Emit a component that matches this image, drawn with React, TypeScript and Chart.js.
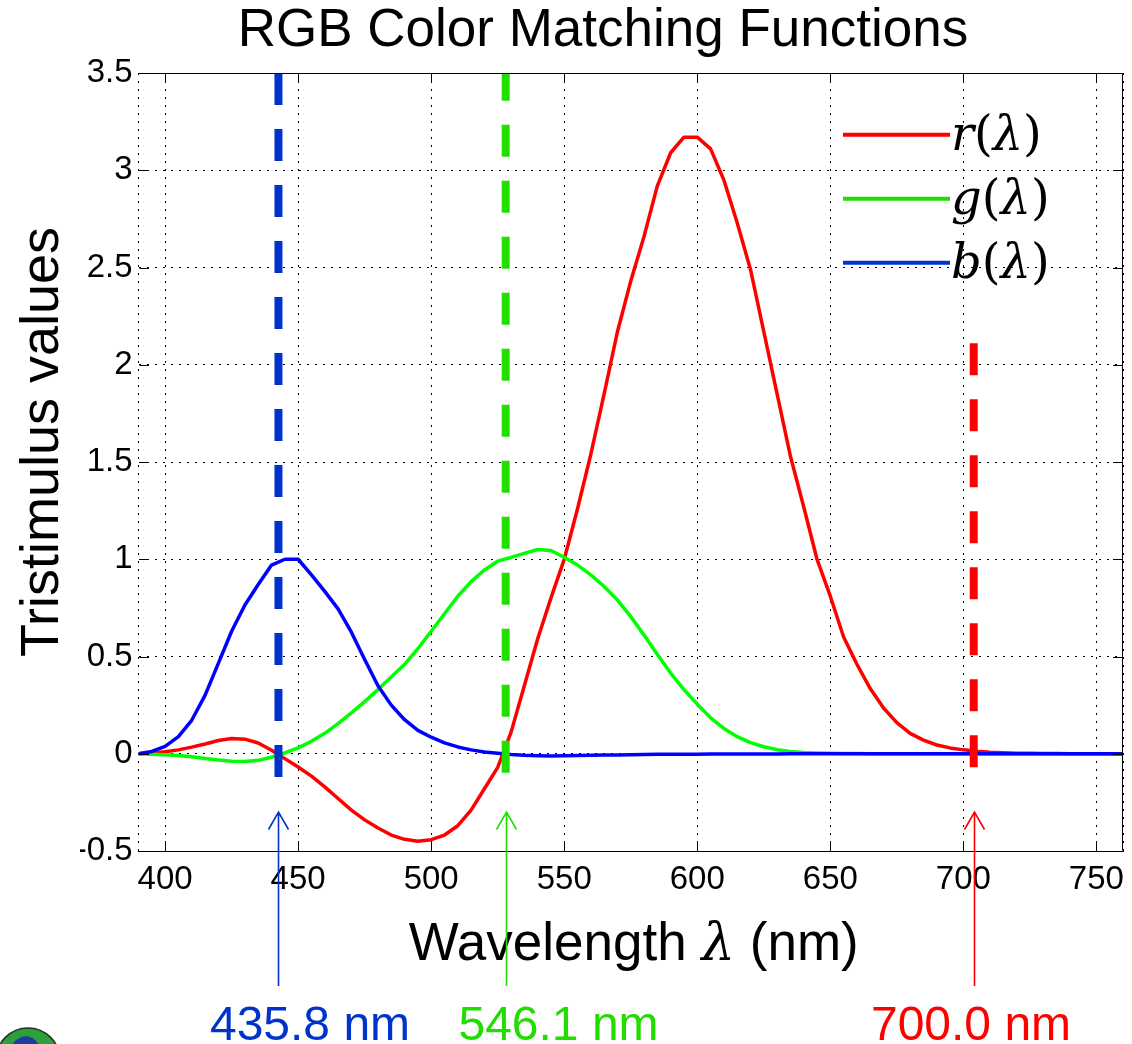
import { useEffect, useRef } from "react";
import { Chart, registerables } from "chart.js";

Chart.register(...registerables);

// ---- data ----
const WAVELENGTHS = [
  390, 395, 400, 405, 410, 415, 420, 425, 430, 435,
  440, 445, 450, 455, 460, 465, 470, 475, 480, 485,
  490, 495, 500, 505, 510, 515, 520, 525, 530, 535,
  540, 545, 550, 555, 560, 565, 570, 575, 580, 585,
  590, 595, 600, 605, 610, 615, 620, 625, 630, 635,
  640, 645, 650, 655, 660, 665, 670, 675, 680, 685,
  690, 695, 700, 705, 710, 715, 720, 725, 730, 735,
  740, 745, 750, 755, 760,
];

const R_BAR = [
  0.0, 0.004, 0.01, 0.02, 0.034, 0.05, 0.068, 0.078, 0.075, 0.055,
  0.018, -0.025, -0.068, -0.115, -0.17, -0.23, -0.29, -0.34, -0.382, -0.418,
  -0.44, -0.45, -0.442, -0.418, -0.37, -0.29, -0.18, -0.07, 0.11, 0.35,
  0.59, 0.8, 1.0, 1.26, 1.54, 1.85, 2.17, 2.43, 2.66, 2.92,
  3.09, 3.17, 3.17, 3.11, 2.95, 2.73, 2.49, 2.17, 1.85, 1.53,
  1.27, 1.0, 0.81, 0.6, 0.46, 0.335, 0.235, 0.16, 0.105, 0.07,
  0.045, 0.03, 0.02, 0.013, 0.008, 0.005, 0.003, 0.002, 0.001, 0.001,
  0.0, 0.0, 0.0, 0.0, 0.0,
];

const G_BAR = [
  0.0, -0.002, -0.005, -0.009, -0.016, -0.024, -0.032, -0.038, -0.04, -0.034,
  -0.018, 0.004, 0.03, 0.064, 0.105, 0.155, 0.21, 0.268, 0.33, 0.395,
  0.46, 0.54, 0.63, 0.72, 0.81, 0.885, 0.945, 0.99, 1.01, 1.03,
  1.05, 1.045, 1.01, 0.97, 0.92, 0.86, 0.79, 0.705, 0.61, 0.51,
  0.415, 0.33, 0.255, 0.185, 0.13, 0.088, 0.057, 0.036, 0.021, 0.012,
  0.007, 0.004, 0.002, 0.001, 0.001, 0.0, 0.0, 0.0, 0.0, 0.0,
  0.0, 0.0, 0.0, 0.0, 0.0, 0.0, 0.0, 0.0, 0.0, 0.0,
  0.0, 0.0, 0.0, 0.0, 0.0,
];

const B_BAR = [
  0.0, 0.012, 0.038, 0.088, 0.172, 0.3, 0.465, 0.63, 0.765, 0.87,
  0.97, 1.0, 1.0, 0.92, 0.835, 0.745, 0.625, 0.485, 0.35, 0.25,
  0.175, 0.12, 0.085, 0.056, 0.035, 0.02, 0.009, 0.002, -0.004, -0.008,
  -0.01, -0.011, -0.01, -0.009, -0.008, -0.007, -0.006, -0.005, -0.004, -0.003,
  -0.003, -0.002, -0.002, -0.001, -0.001, -0.001, -0.001, -0.001, -0.001, 0.0,
  0.0, 0.0, 0.0, 0.0, 0.0, 0.0, 0.0, 0.0, 0.0, 0.0,
  0.0, 0.0, 0.0, 0.0, 0.0, 0.0, 0.0, 0.0, 0.0, 0.0,
  0.0, 0.0, 0.0, 0.0, 0.0,
];

const SERIES_NAMES = ["r", "g", "b"];
const X_MIN = 390;
const X_MAX = 760;
const X_TICKS = [400, 450, 500, 550, 600, 650, 700, 750];
const Y_TICKS = [-0.5, 0, 0.5, 1, 1.5, 2, 2.5, 3, 3.5];

// primary markers: where the dashed markers sit on the wavelength axis, and their labels
const MARKER_LABELS = ["435.8 nm", "546.1 nm", "700.0 nm"];
const MARKER_WAVELENGTHS = [442.6, 528.0, 703.9];
const MARKER_TOP = [3.5, 3.5, 2.11];
const MARKER_BOTTOM = [-0.121, -0.099, -0.071];

// ---- styles / layout ----
const SANS = "'Liberation Sans', Arial, Helvetica, sans-serif";
const SERIF = "'DejaVu Serif', 'Liberation Serif', serif";
const CURVE_COLORS = ["#ff0000", "#00ff00", "#0000ff"];
const ACCENT_COLORS = ["#ff0000", "#22dd00", "#0033cc"];
const MARKER_COLORS = ["#0033cc", "#22dd00", "#ff0000"];
const MARKER_DASH_OFFSET = [0, 4.3, 0];
const LABEL_CENTERS_PX = [310, 558.5, 971];
const TITLE_SIZE = 53;
const W = 1132;
const H = 1044;

type Run = { t: string; f: string };

function drawRuns(ctx: CanvasRenderingContext2D, runs: Run[], x: number, y: number, center: boolean) {
  const widths = runs.map((r) => {
    ctx.font = r.f;
    return ctx.measureText(r.t).width;
  });
  const total = widths.reduce((a, b) => a + b, 0);
  let cx = center ? x - total / 2 : x;
  ctx.textAlign = "left";
  runs.forEach((r, i) => {
    ctx.font = r.f;
    ctx.fillText(r.t, cx, y);
    cx += widths[i];
  });
}

const overlayPlugin = {
  id: "overlay",
  afterDatasetsDraw(chart: any) {
    const { ctx, chartArea: ca, scales } = chart;
    const xs = scales.x;
    const ys = scales.y;
    ctx.save();
    ctx.setLineDash([]);
    ctx.strokeStyle = "#000";
    ctx.lineWidth = 1;
    // top + right solid borders
    const top = Math.round(ca.top) + 0.5;
    const right = Math.round(ca.right) - 0.5;
    const bottom = Math.round(ca.bottom) - 0.5;
    const left = Math.round(ca.left) + 0.5;
    ctx.beginPath();
    ctx.moveTo(left, top);
    ctx.lineTo(right, top);
    ctx.lineTo(right, bottom);
    ctx.stroke();
    // inward tick marks
    const TL = 9.5;
    ctx.beginPath();
    X_TICKS.forEach((v) => {
      const px = Math.round(xs.getPixelForValue(v)) + 0.5;
      ctx.moveTo(px, bottom);
      ctx.lineTo(px, bottom - TL);
      ctx.moveTo(px, top);
      ctx.lineTo(px, top + TL);
    });
    Y_TICKS.forEach((v) => {
      const py = Math.round(ys.getPixelForValue(v)) + 0.5;
      ctx.moveTo(left, py);
      ctx.lineTo(left + TL, py);
      ctx.moveTo(right, py);
      ctx.lineTo(right - TL, py);
    });
    ctx.stroke();

    // legend (inside, top right)
    SERIES_NAMES.forEach((name, i) => {
      const ly = 134.7 + i * 64;
      ctx.strokeStyle = ACCENT_COLORS[i];
      ctx.lineWidth = 4;
      ctx.beginPath();
      ctx.moveTo(843, ly);
      ctx.lineTo(950, ly);
      ctx.stroke();
      ctx.fillStyle = "#000";
      ctx.textBaseline = "alphabetic";
      drawRuns(
        ctx,
        [
          { t: name, f: `italic 48px ${SERIF}` },
          { t: "(", f: `48px ${SERIF}` },
          { t: "λ", f: `italic 48px ${SERIF}` },
          { t: ")", f: `48px ${SERIF}` },
        ],
        951,
        ly + 15,
        false
      );
    });
    ctx.restore();
  },
  afterDraw(chart: any) {
    const { ctx, chartArea: ca, scales } = chart;
    const xs = scales.x;
    ctx.save();
    ctx.setLineDash([]);

    // y axis title
    ctx.save();
    ctx.translate(58, (ca.top + ca.bottom) / 2 - 20);
    ctx.rotate(-Math.PI / 2);
    ctx.fillStyle = "#000";
    ctx.font = `54px ${SANS}`;
    ctx.textAlign = "center";
    ctx.textBaseline = "alphabetic";
    ctx.fillText("Tristimulus values", 0, 0);
    ctx.restore();

    // x axis title with italic lambda
    ctx.fillStyle = "#000";
    ctx.textBaseline = "alphabetic";
    drawRuns(
      ctx,
      [
        { t: "Wavelength ", f: `53px ${SANS}` },
        { t: "λ", f: `italic 53px ${SERIF}` },
        { t: " (nm)", f: `53px ${SANS}` },
      ],
      (ca.left + ca.right) / 2 + 3,
      960,
      true
    );

    // arrows and primary labels
    MARKER_WAVELENGTHS.forEach((w, i) => {
      const px = Math.round(xs.getPixelForValue(w)) + 0.5;
      const tip = ca.bottom - 39;
      ctx.strokeStyle = MARKER_COLORS[i];
      ctx.lineWidth = 1.6;
      ctx.beginPath();
      ctx.moveTo(px, tip);
      ctx.lineTo(px, ca.bottom + 135);
      ctx.moveTo(px - 10, tip + 17.5);
      ctx.lineTo(px, tip);
      ctx.lineTo(px + 10, tip + 17.5);
      ctx.stroke();
      ctx.fillStyle = MARKER_COLORS[i];
      ctx.font = `48px ${SANS}`;
      ctx.textAlign = "center";
      ctx.fillText(MARKER_LABELS[i], LABEL_CENTERS_PX[i], 1040);
    });

    // small logo partially visible at bottom-left
    ctx.beginPath();
    ctx.arc(28, 1060, 32, 0, Math.PI * 2);
    ctx.fillStyle = "#2f9e3c";
    ctx.fill();
    ctx.lineWidth = 1.5;
    ctx.strokeStyle = "#1a3a1a";
    ctx.stroke();
    ctx.beginPath();
    ctx.ellipse(24, 1056, 16, 20, 0.3, 0, Math.PI * 2);
    ctx.fillStyle = "#1c3c9e";
    ctx.fill();
    ctx.restore();
  },
};

export default function App() {
  const ref = useRef<HTMLCanvasElement>(null);

  useEffect(() => {
    const canvas = ref.current;
    if (!canvas) return;
    const pts = (ys: number[]) => WAVELENGTHS.map((x, i) => ({ x, y: ys[i] }));
    const curves = [R_BAR, G_BAR, B_BAR].map((vals, i) => ({
      label: SERIES_NAMES[i] + "(λ)",
      data: pts(vals),
      borderColor: CURVE_COLORS[i],
      backgroundColor: CURVE_COLORS[i],
      borderWidth: 3.5,
      pointRadius: 0,
      tension: 0,
      borderJoinStyle: "round" as const,
      order: 3 - i,
    }));
    const markers = MARKER_WAVELENGTHS.map((w, i) => ({
      label: MARKER_LABELS[i],
      data: [
        { x: w, y: MARKER_TOP[i] },
        { x: w, y: MARKER_BOTTOM[i] },
      ],
      borderColor: MARKER_COLORS[i],
      backgroundColor: MARKER_COLORS[i],
      borderWidth: 8,
      borderDash: [32, 24],
      borderDashOffset: MARKER_DASH_OFFSET[i],
      borderCapStyle: "butt" as const,
      pointRadius: 0,
      order: 0,
    }));

    const tickFont = { family: SANS, size: 33 };
    const chart = new Chart(canvas, {
      type: "line",
      data: { datasets: [...markers, ...curves] as any },
      options: {
        responsive: false,
        animation: false,
        devicePixelRatio: 1,
        layout: { padding: { left: 80, right: 6, top: 0, bottom: 0 } },
        plugins: {
          legend: { display: false },
          tooltip: { enabled: false },
          title: {
            display: true,
            text: "RGB Color Matching Functions",
            color: "#000",
            font: { family: SANS, size: TITLE_SIZE, weight: "normal" as any, lineHeight: 1.2 },
            padding: { top: 0, bottom: 73 - TITLE_SIZE * 1.2 },
          },
        },
        scales: {
          x: {
            type: "linear",
            min: X_MIN,
            max: X_MAX,
            afterBuildTicks: (s: any) => {
              s.ticks = [X_MIN, ...X_TICKS, X_MAX].map((v) => ({ value: v }));
            },
            ticks: {
              autoSkip: false,
              maxRotation: 0,
              color: "#000",
              font: tickFont,
              padding: 9,
              callback: (v: any) => (X_TICKS.includes(Number(v)) ? String(v) : ""),
            },
            grid: { color: "#000", lineWidth: 1, drawTicks: false },
            border: { display: true, color: "#000", width: 1, dash: [2, 6] },
            afterFit: (s: any) => {
              s.height = H - 851;
            },
          },
          y: {
            min: -0.5,
            max: 3.5,
            afterBuildTicks: (s: any) => {
              s.ticks = Y_TICKS.map((v) => ({ value: v }));
            },
            ticks: {
              color: "#000",
              font: tickFont,
              padding: 6,
              callback: (v: any) => String(Number(v)),
            },
            grid: { color: "#000", lineWidth: 1, drawTicks: false },
            border: { display: false, dash: [2, 6] },
            afterFit: (s: any) => {
              s.width = 138.5 - 80;
            },
          },
        },
      } as any,
      plugins: [overlayPlugin],
    });
    return () => chart.destroy();
  }, []);

  return (
    <div style={{ position: "absolute", left: 0, top: 0, width: W, height: H, background: "#fff", overflow: "hidden" }}>
      <canvas ref={ref} width={W} height={H} style={{ display: "block", width: W, height: H }} />
    </div>
  );
}
